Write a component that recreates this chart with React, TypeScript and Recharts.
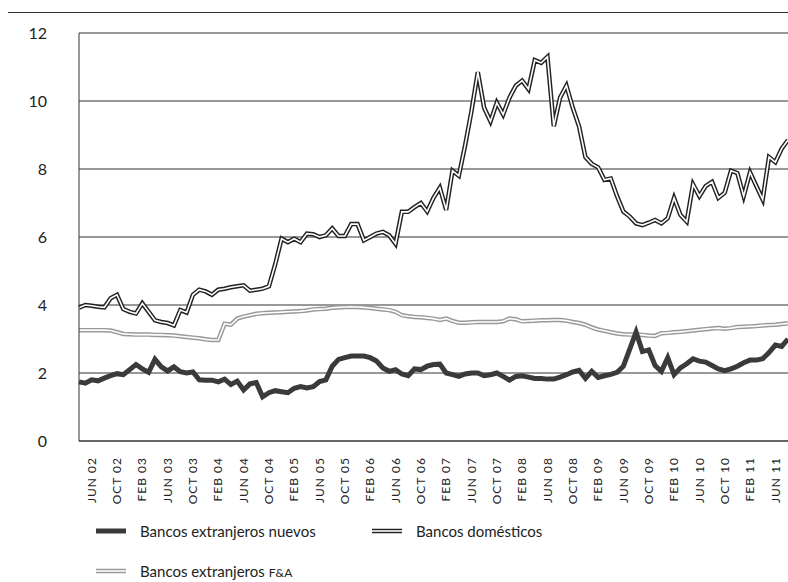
import React from 'react';
import { LineChart, Line, XAxis, YAxis, CartesianGrid } from 'recharts';

const monthNames = ['ENE', 'FEB', 'MAR', 'ABR', 'MAY', 'JUN', 'JUL', 'AGO', 'SEP', 'OCT', 'NOV', 'DIC'];

// APR 02 .. AUG 11, monthly
const months: string[] = [];
for (let y = 2002; y <= 2011; y++) {
  for (let m = 0; m < 12; m++) {
    if (y === 2002 && m < 3) continue;
    if (y === 2011 && m > 7) continue;
    months.push(`${monthNames[m]} ${String(y % 100).padStart(2, '0')}`);
  }
}

const tickLabels = [
  'JUN 02', 'OCT 02', 'FEB 03', 'JUN 03', 'OCT 03', 'FEB 04', 'JUN 04', 'OCT 04', 'FEB 05',
  'JUN 05', 'OCT 05', 'FEB 06', 'JUN 06', 'OCT 06', 'FEB 07', 'JUN 07', 'OCT 07', 'FEB 08',
  'JUN 08', 'OCT 08', 'FEB 09', 'JUN 09', 'OCT 09', 'FEB 10', 'JUN 10', 'OCT 10', 'FEB 11', 'JUN 11',
];

const yTicks = [0, 2, 4, 6, 8, 10, 12];

const nuevos = [
  1.74, 1.7, 1.8, 1.77, 1.85, 1.92, 1.98, 1.95, 2.1, 2.25,
  2.12, 2.02, 2.4, 2.18, 2.06, 2.18, 2.04, 2.0, 2.03, 1.8,
  1.79, 1.79, 1.74, 1.82, 1.66, 1.76, 1.5, 1.68, 1.72, 1.3,
  1.42, 1.48, 1.45, 1.42, 1.55, 1.6, 1.56, 1.6, 1.75, 1.8,
  2.2, 2.4, 2.45, 2.5, 2.5, 2.5, 2.45, 2.35, 2.15, 2.05,
  2.1, 1.97, 1.92, 2.12, 2.1, 2.2, 2.25, 2.26, 2.0, 1.95,
  1.9, 1.97, 2.0, 2.0, 1.92, 1.95, 2.0, 1.9, 1.79, 1.9,
  1.92, 1.88, 1.84, 1.84, 1.82, 1.82, 1.88, 1.95, 2.03, 2.08,
  1.84, 2.05, 1.87, 1.92, 1.96, 2.02, 2.2, 2.7, 3.2, 2.63,
  2.68, 2.22, 2.05, 2.45, 1.95, 2.15, 2.27, 2.42, 2.35, 2.32,
  2.22, 2.12, 2.07, 2.12, 2.2, 2.3, 2.38, 2.38, 2.42, 2.6,
  2.82, 2.78, 3.0,
];

const domesticos = [
  3.92, 4.0, 3.98, 3.95, 3.93, 4.2, 4.3, 3.88, 3.8, 3.75,
  4.05, 3.8, 3.55, 3.5, 3.47, 3.4, 3.85, 3.78, 4.3, 4.45,
  4.4, 4.3, 4.45, 4.48, 4.52, 4.55, 4.58, 4.42, 4.45, 4.48,
  4.55, 5.2, 5.95, 5.85, 5.95, 5.85, 6.1, 6.08, 6.0, 6.05,
  6.25, 6.03, 6.03, 6.38, 6.38, 5.9, 6.0, 6.1, 6.15, 6.05,
  5.8, 6.74, 6.74, 6.88, 7.0, 6.75, 7.15, 7.45, 6.8, 7.95,
  7.8, 8.7, 9.7, 10.85, 9.8, 9.4, 9.95, 9.6, 10.1, 10.45,
  10.6, 10.35, 11.2, 11.12, 11.3, 9.26, 10.1, 10.45, 9.8, 9.25,
  8.35, 8.15, 8.05, 7.68, 7.72, 7.2, 6.75, 6.6, 6.4, 6.35,
  6.42, 6.5, 6.4, 6.55, 7.15, 6.65, 6.45, 7.55, 7.2, 7.5,
  7.62, 7.15, 7.3, 7.95, 7.88, 7.2, 7.9, 7.5, 7.1, 8.35,
  8.2, 8.6, 8.85,
];

const fya = [
  3.26, 3.26, 3.26, 3.26, 3.26, 3.25, 3.2, 3.15, 3.14, 3.13,
  3.13, 3.13, 3.12, 3.12, 3.11, 3.1, 3.08, 3.06, 3.04, 3.02,
  2.99, 2.97, 2.97, 3.45, 3.42, 3.6, 3.66, 3.7, 3.74, 3.76,
  3.77, 3.78, 3.79, 3.8, 3.81, 3.82, 3.84, 3.87, 3.88, 3.89,
  3.92, 3.93, 3.94, 3.95, 3.94, 3.93, 3.91, 3.89, 3.87, 3.85,
  3.8, 3.7, 3.67, 3.65, 3.64, 3.62, 3.6, 3.56, 3.6, 3.53,
  3.48, 3.48, 3.49, 3.5, 3.5, 3.5, 3.5, 3.52, 3.6, 3.58,
  3.52, 3.53, 3.54, 3.55, 3.55, 3.56, 3.56, 3.54, 3.5, 3.47,
  3.42, 3.34, 3.28, 3.24, 3.2, 3.16, 3.14, 3.13, 3.13, 3.12,
  3.1, 3.09, 3.17, 3.18, 3.2, 3.21, 3.23, 3.25, 3.27, 3.29,
  3.31, 3.32, 3.3, 3.32, 3.35, 3.36, 3.37, 3.38, 3.4, 3.41,
  3.42, 3.44, 3.46,
];

const data = months.map((month, i) => ({
  month,
  nuevos: nuevos[i],
  domesticos: domesticos[i],
  fya: fya[i],
}));

const FONT = 'Lato, "DejaVu Sans", sans-serif';

const MonthTick = (props: any) => {
  const { x, y, payload } = props;
  return (
    <text
      x={x}
      y={y + 8}
      transform={`rotate(-90, ${x}, ${y + 8})`}
      textAnchor="end"
      dy="0.35em"
      fontSize={12}
      letterSpacing={1}
      fill="#222"
      fontFamily={FONT}
    >
      {payload.value}
    </text>
  );
};

const LegendItem = ({ kind, left, top, children }: any) => (
  <div style={{ position: 'absolute', left, top, display: 'flex', alignItems: 'center', height: 20 }}>
    <svg width={30} height={10} style={{ marginRight: 14 }}>
      {kind === 'solid' && <line x1={0} y1={5} x2={30} y2={5} stroke="#3a3a3a" strokeWidth={5} strokeLinecap="round" />}
      {kind === 'double' && (
        <>
          <line x1={0} y1={5} x2={30} y2={5} stroke="#222" strokeWidth={4.5} />
          <line x1={0} y1={5} x2={30} y2={5} stroke="#fff" strokeWidth={1.6} />
        </>
      )}
      {kind === 'gray' && (
        <>
          <line x1={0} y1={5} x2={30} y2={5} stroke="#999" strokeWidth={4.5} />
          <line x1={0} y1={5} x2={30} y2={5} stroke="#fff" strokeWidth={1.6} />
        </>
      )}
    </svg>
    <span style={{ fontFamily: FONT, fontSize: 15, color: '#222', whiteSpace: 'nowrap' }}>{children}</span>
  </div>
);

export default function App() {
  return (
    <div style={{ position: 'fixed', left: 0, top: 0, width: 788, height: 582, overflow: 'hidden', background: '#fff' }}>
      <style>{'html,body{margin:0;overflow:hidden}'}</style>
      <div style={{ position: 'absolute', left: 8, top: 12, width: 780, height: 1, background: '#333' }} />
      <div style={{ position: 'absolute', left: 8, top: 8 }}>
        <LineChart width={780} height={500} data={data} margin={{ top: 25, right: 0, bottom: 0, left: 0 }}>
          <CartesianGrid vertical={false} stroke="#333" />
          <XAxis
            dataKey="month"
            ticks={tickLabels}
            interval={0}
            tick={<MonthTick />}
            tickLine={false}
            axisLine={{ stroke: '#333' }}
            height={67}
          />
          <YAxis
            domain={[0, 12]}
            ticks={yTicks}
            width={71}
            tickSize={0}
            tickMargin={32}
            axisLine={{ stroke: '#333' }}
            tick={{ fontSize: 16, fill: '#222', fontFamily: FONT }}
          />
          <Line dataKey="fya" stroke="#999" strokeWidth={4.5} dot={false} isAnimationActive={false} />
          <Line dataKey="fya" stroke="#fff" strokeWidth={1.6} dot={false} isAnimationActive={false} />
          <Line dataKey="domesticos" stroke="#222" strokeWidth={4.5} dot={false} isAnimationActive={false} />
          <Line dataKey="domesticos" stroke="#fff" strokeWidth={1.6} dot={false} isAnimationActive={false} />
          <Line dataKey="nuevos" stroke="#3a3a3a" strokeWidth={5} dot={false} isAnimationActive={false} />
        </LineChart>
      </div>
      <LegendItem kind="solid" left={96} top={521}>Bancos extranjeros nuevos</LegendItem>
      <LegendItem kind="double" left={372} top={521}>Bancos domésticos</LegendItem>
      <LegendItem kind="gray" left={96} top={561}>
        Bancos extranjeros <span style={{ fontSize: 12 }}>F&amp;A</span>
      </LegendItem>
    </div>
  );
}
